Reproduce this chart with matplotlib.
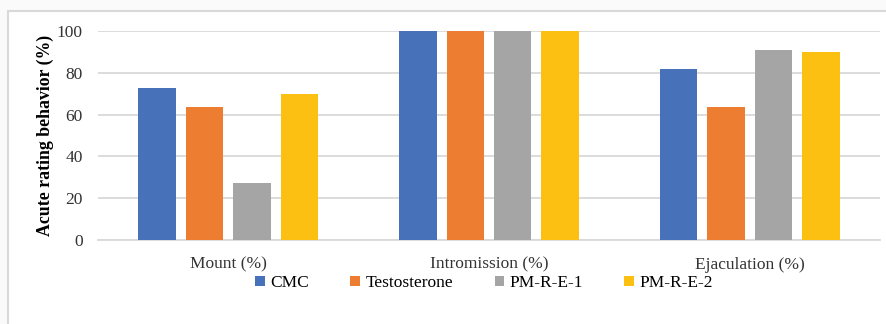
import numpy as np
import matplotlib
matplotlib.use("Agg")
import matplotlib.pyplot as plt
from matplotlib.patches import Rectangle

# Behaviour categories and group results (%)
categories = ["Mount (%)", "Intromission (%)", "Ejaculation (%)"]
groups = ["CMC", "Testosterone", "PM-R-E-1", "PM-R-E-2"]
cmc = [72.7, 100, 81.8]
testosterone = [63.6, 100, 63.6]
pm_r_e_1 = [27.3, 100, 90.9]
pm_r_e_2 = [70.0, 100, 90.0]
colors = ["#4771B9", "#ED7D31", "#A5A5A5", "#FCC012"]
yticks = [0, 20, 40, 60, 80, 100]

plt.rcParams["font.family"] = ["Liberation Serif", "DejaVu Serif"]

fig = plt.figure(figsize=(8.86, 3.24), dpi=100, facecolor="#fafafa")
W, H = 886, 324

# chart frame
fig.patches.append(Rectangle((8 / W, -0.1), 1.0, 1 - 11 / H + 0.1,
                             transform=fig.transFigure, facecolor="white",
                             edgecolor="#d9d9d9", linewidth=1.5, zorder=-1))

ax = fig.add_axes([98 / W, 1 - 240 / H, 782 / W, 209 / H])
ax.set_zorder(2)
ax.set_facecolor("none")

x = np.arange(len(categories))
step = 0.182
width = 0.144
series = [cmc, testosterone, pm_r_e_1, pm_r_e_2]
for i, (vals, name, c) in enumerate(zip(series, groups, colors)):
    ax.bar(x + (i - 1.5) * step, vals, width, color=c, label=name, zorder=3)

ax.set_xlim(-0.5, 2.5)
ax.set_ylim(0, 100)
ax.set_yticks(yticks)
ax.set_xticks(x)
ax.set_xticklabels(categories, fontsize=12.5)
ax.tick_params(axis="both", length=0, labelsize=12.5, colors="#333333")
ax.tick_params(axis="y", pad=11)
ax.tick_params(axis="x", pad=12)
ax.grid(axis="y", color="#d9d9d9", linewidth=1.3, zorder=0)
for s in ["top", "right", "left"]:
    ax.spines[s].set_visible(False)
ax.spines["bottom"].set_color("#d9d9d9")
ax.spines["bottom"].set_linewidth(1.3)

ax.set_ylabel("Acute rating behavior (%)", fontsize=12.8, fontweight="bold",
              labelpad=2)

leg = fig.legend(loc="center", bbox_to_anchor=(0.5 + 41 / W, 1 - 283 / H),
                 ncol=4, frameon=False, fontsize=12.5, handlelength=0.55,
                 handleheight=0.55, handletextpad=0.3, columnspacing=2.4,
                 borderaxespad=0)
leg.set_zorder(3)

fig.savefig("out.png", dpi=100, facecolor=fig.get_facecolor())
